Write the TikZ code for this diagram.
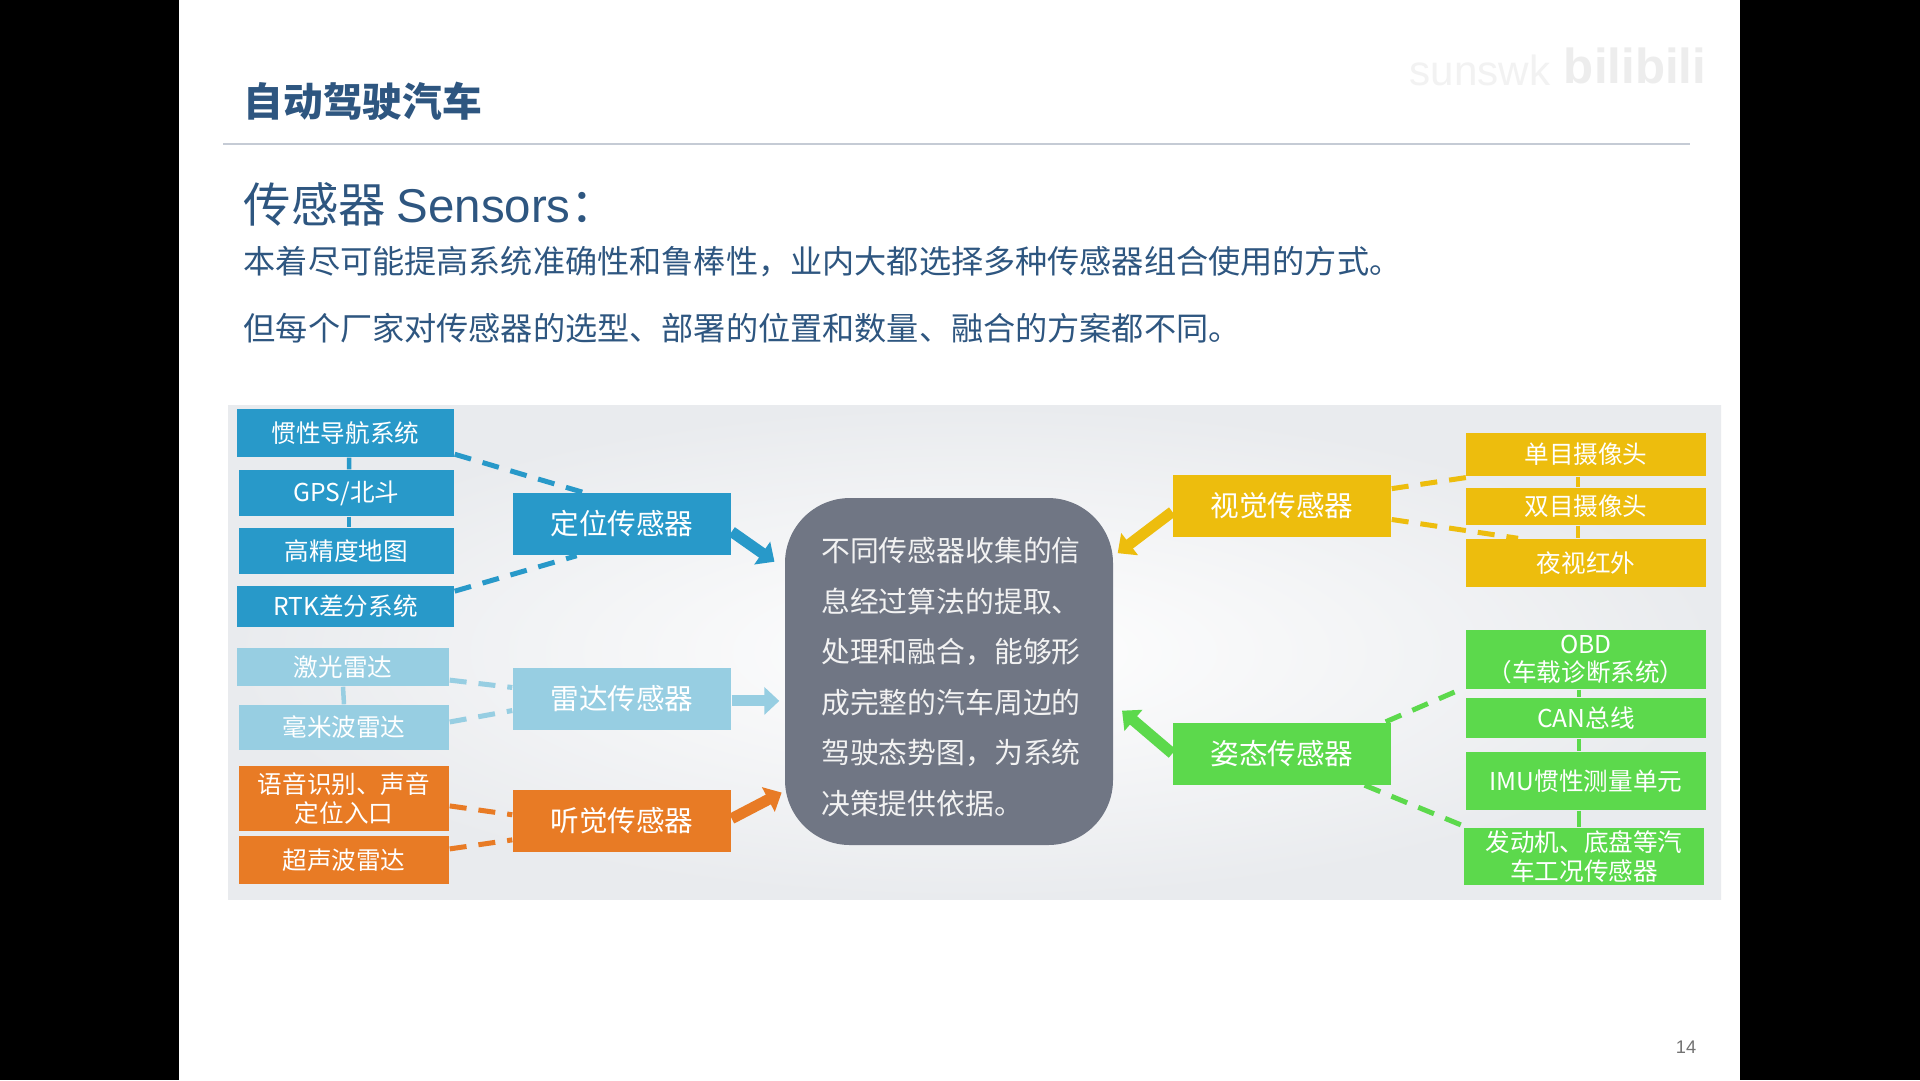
\documentclass[tikz,border=0pt]{standalone}
\usepackage{fontspec}
\setmainfont{Noto Sans CJK SC}
\newfontfamily\latinfont{Liberation Sans}
\usetikzlibrary{arrows.meta}
\definecolor{slideink}{HTML}{2E5680}
\definecolor{ruleline}{HTML}{C5CBD5}
\definecolor{hubgray}{HTML}{707684}
\definecolor{locblue}{HTML}{2899C9}
\definecolor{radarsky}{HTML}{97CEE2}
\definecolor{audiorange}{HTML}{E87B25}
\definecolor{visionyellow}{HTML}{EDBD0D}
\definecolor{posegreen}{HTML}{5CD94C}
\definecolor{panelrim}{HTML}{E9EBEE}
\tikzset{
  partbox/.style={fill=#1,text=white,inner sep=0pt,align=center,font=\fontsize{7}{8.2}\selectfont},
  groupbox/.style={fill=#1,text=white,inner sep=0pt,minimum width=21.8mm,minimum height=6.2mm,font=\fontsize{8.15}{10}\selectfont},
  stem/.style={draw=#1,line width=0.45mm},
  feed/.style={draw=#1,line width=0.5mm,dash pattern=on 1.7mm off 1.2mm},
  bigarrow/.style={draw=#1,line width=1.1mm,-{Triangle[length=1.5mm,width=2.7mm]}},
  bodyline/.style={anchor=west,inner sep=0pt,text=slideink},
}
\begin{document}
\begin{tikzpicture}[x=0.1mm,y=-0.1mm]
\useasboundingbox (0,0) rectangle (1920,1080);
\fill[black] (0,0) rectangle (1920,1080);
\fill[white] (179,0) rectangle (1740,1080);
\shade[inner color=white,outer color=panelrim] (228,405) rectangle (1721,899);

\node[text=black!5,inner sep=0pt,font=\latinfont\fontsize{12}{14}\selectfont] (mark) at (1480,70) {sunswk};
\node[text=black!7,inner sep=0pt,font=\latinfont\bfseries\fontsize{14}{16}\selectfont] (site) at (1635,66) {bilibili};

\node[bodyline,font=\bfseries\fontsize{11.3}{13}\selectfont] (title) at (243,101) {自动驾驶汽车};
\coordinate (ruleleft) at (223,144);
\coordinate (ruleright) at (1690,144);
\draw[ruleline,line width=0.2mm] (ruleleft) -- (ruleright);
\node[bodyline,font=\fontsize{13.5}{16}\selectfont] (heading) at (243,204) {传感器 {\latinfont Sensors}：};
\node[bodyline,font=\fontsize{9.15}{11}\selectfont] (lineone) at (243,262) {本着尽可能提高系统准确性和鲁棒性，业内大都选择多种传感器组合使用的方式。};
\node[bodyline,font=\fontsize{9.15}{11}\selectfont] (linetwo) at (243,328) {但每个厂家对传感器的选型、部署的位置和数量、融合的方案都不同。};
\node[text=black!55,inner sep=0pt,font=\latinfont\fontsize{5.2}{6}\selectfont] (pagenum) at (1686,1047) {14};

\node[fill=hubgray,rounded corners=6.5mm,inner sep=0pt,minimum width=32.8mm,minimum height=34.7mm] (hub) at (949,671.5) {};
\node[text=black!5,inner sep=0pt,align=left,font=\fontsize{8.2}{14.4}\selectfont] (hubtext) at (951,677) {不同传感器收集的信\\息经过算法的提取、\\处理和融合，能够形\\成完整的汽车周边的\\驾驶态势图，为系统\\决策提供依据。};

\node[partbox=locblue,minimum width=21.7mm,minimum height=4.8mm] (nav) at (345.5,433) {惯性导航系统};
\node[partbox=locblue,minimum width=21.5mm,minimum height=4.6mm] (gps) at (346.5,493) {GPS/北斗};
\node[partbox=locblue,minimum width=21.5mm,minimum height=4.6mm] (hdmap) at (346.5,551) {高精度地图};
\node[partbox=locblue,minimum width=21.7mm,minimum height=4.1mm] (rtk) at (345.5,606.5) {RTK差分系统};
\node[partbox=radarsky,minimum width=21.2mm,minimum height=3.8mm] (lidar) at (343,667) {激光雷达};
\node[partbox=radarsky,minimum width=21.0mm,minimum height=4.5mm] (mmw) at (344,727.5) {毫米波雷达};
\node[partbox=audiorange,minimum width=21.0mm,minimum height=6.5mm] (voice) at (344,798.5) {语音识别、声音\\定位入口};
\node[partbox=audiorange,minimum width=21.0mm,minimum height=4.8mm] (ultra) at (344,860) {超声波雷达};

\node[groupbox=locblue] (locate) at (622,524) {定位传感器};
\node[groupbox=radarsky] (radar) at (622,699) {雷达传感器};
\node[groupbox=audiorange] (audio) at (622,820.5) {听觉传感器};
\node[groupbox=visionyellow] (vision) at (1282,506) {视觉传感器};
\node[groupbox=posegreen] (pose) at (1282,753.5) {姿态传感器};

\node[partbox=visionyellow,minimum width=24mm,minimum height=4.3mm] (mono) at (1586,454.5) {单目摄像头};
\node[partbox=visionyellow,minimum width=24mm,minimum height=3.7mm] (stereo) at (1586,506.5) {双目摄像头};
\node[partbox=visionyellow,minimum width=24mm,minimum height=4.8mm] (night) at (1586,563) {夜视红外};
\node[partbox=posegreen,minimum width=24mm,minimum height=5.9mm] (obd) at (1586,659.5) {OBD\\（车载诊断系统）};
\node[partbox=posegreen,minimum width=24mm,minimum height=4.0mm] (can) at (1586,718) {CAN总线};
\node[partbox=posegreen,minimum width=24mm,minimum height=5.8mm] (imu) at (1586,781) {IMU惯性测量单元};
\node[partbox=posegreen,minimum width=24mm,minimum height=5.7mm] (engine) at (1584,856.5) {发动机、底盘等汽\\车工况传感器};

\draw[stem=locblue] ([xshift=0.35mm]nav.south) -- ([xshift=0.25mm]gps.north);
\draw[stem=locblue] ([xshift=0.25mm]gps.south) -- ([xshift=0.25mm]hdmap.north);
\draw[stem=radarsky] (lidar.south) -- (mmw.north);
\draw[stem=visionyellow] ([xshift=-0.8mm]mono.south) -- ([xshift=-0.8mm]stereo.north);
\draw[stem=visionyellow] ([xshift=-0.8mm]stereo.south) -- ([xshift=-0.8mm]night.north);
\draw[stem=posegreen] ([xshift=-0.7mm]obd.south) -- ([xshift=-0.7mm]can.north);
\draw[stem=posegreen] ([xshift=-0.7mm]can.south) -- ([xshift=-0.7mm]imu.north);
\draw[stem=posegreen] ([xshift=-0.7mm]imu.south) -- ([xshift=-0.5mm]engine.north);

\draw[feed=locblue] (nav.-11.5) -- (locate.141);
\draw[feed=locblue] (rtk.8.6) -- (locate.215);
\draw[feed=radarsky] (lidar.-7) -- (radar.174);
\draw[feed=radarsky] (mmw.3.5) -- (radar.186.8);
\draw[feed=audiorange] (voice.-4) -- (audio.177);
\draw[feed=audiorange] (ultra.6) -- (audio.190.7);
\draw[feed=visionyellow] (vision.9.4) -- (mono.191.6);
\draw[feed=visionyellow] (vision.-7.3) -- (night.160);
\draw[feed=posegreen] (pose.17.7) -- (obd.193.8);
\draw[feed=posegreen] (pose.-21.7) -- (engine.166.8);

\draw[bigarrow=locblue,shorten >=1.2mm] (locate.-4) -- (hub.148.5);
\draw[bigarrow=radarsky,shorten >=0.5mm] (radar.-1.6) -- (radar.-1.6 -| hub.west);
\draw[bigarrow=audiorange,shorten >=0.3mm] (audio.1) -- (hub.216.5);
\draw[bigarrow=visionyellow,shorten >=0.5mm] (vision.183) -- (hub.35.7);
\draw[bigarrow=posegreen,shorten >=1.1mm] (pose.west) -- (hub.-11.2);
\end{tikzpicture}
\end{document}
